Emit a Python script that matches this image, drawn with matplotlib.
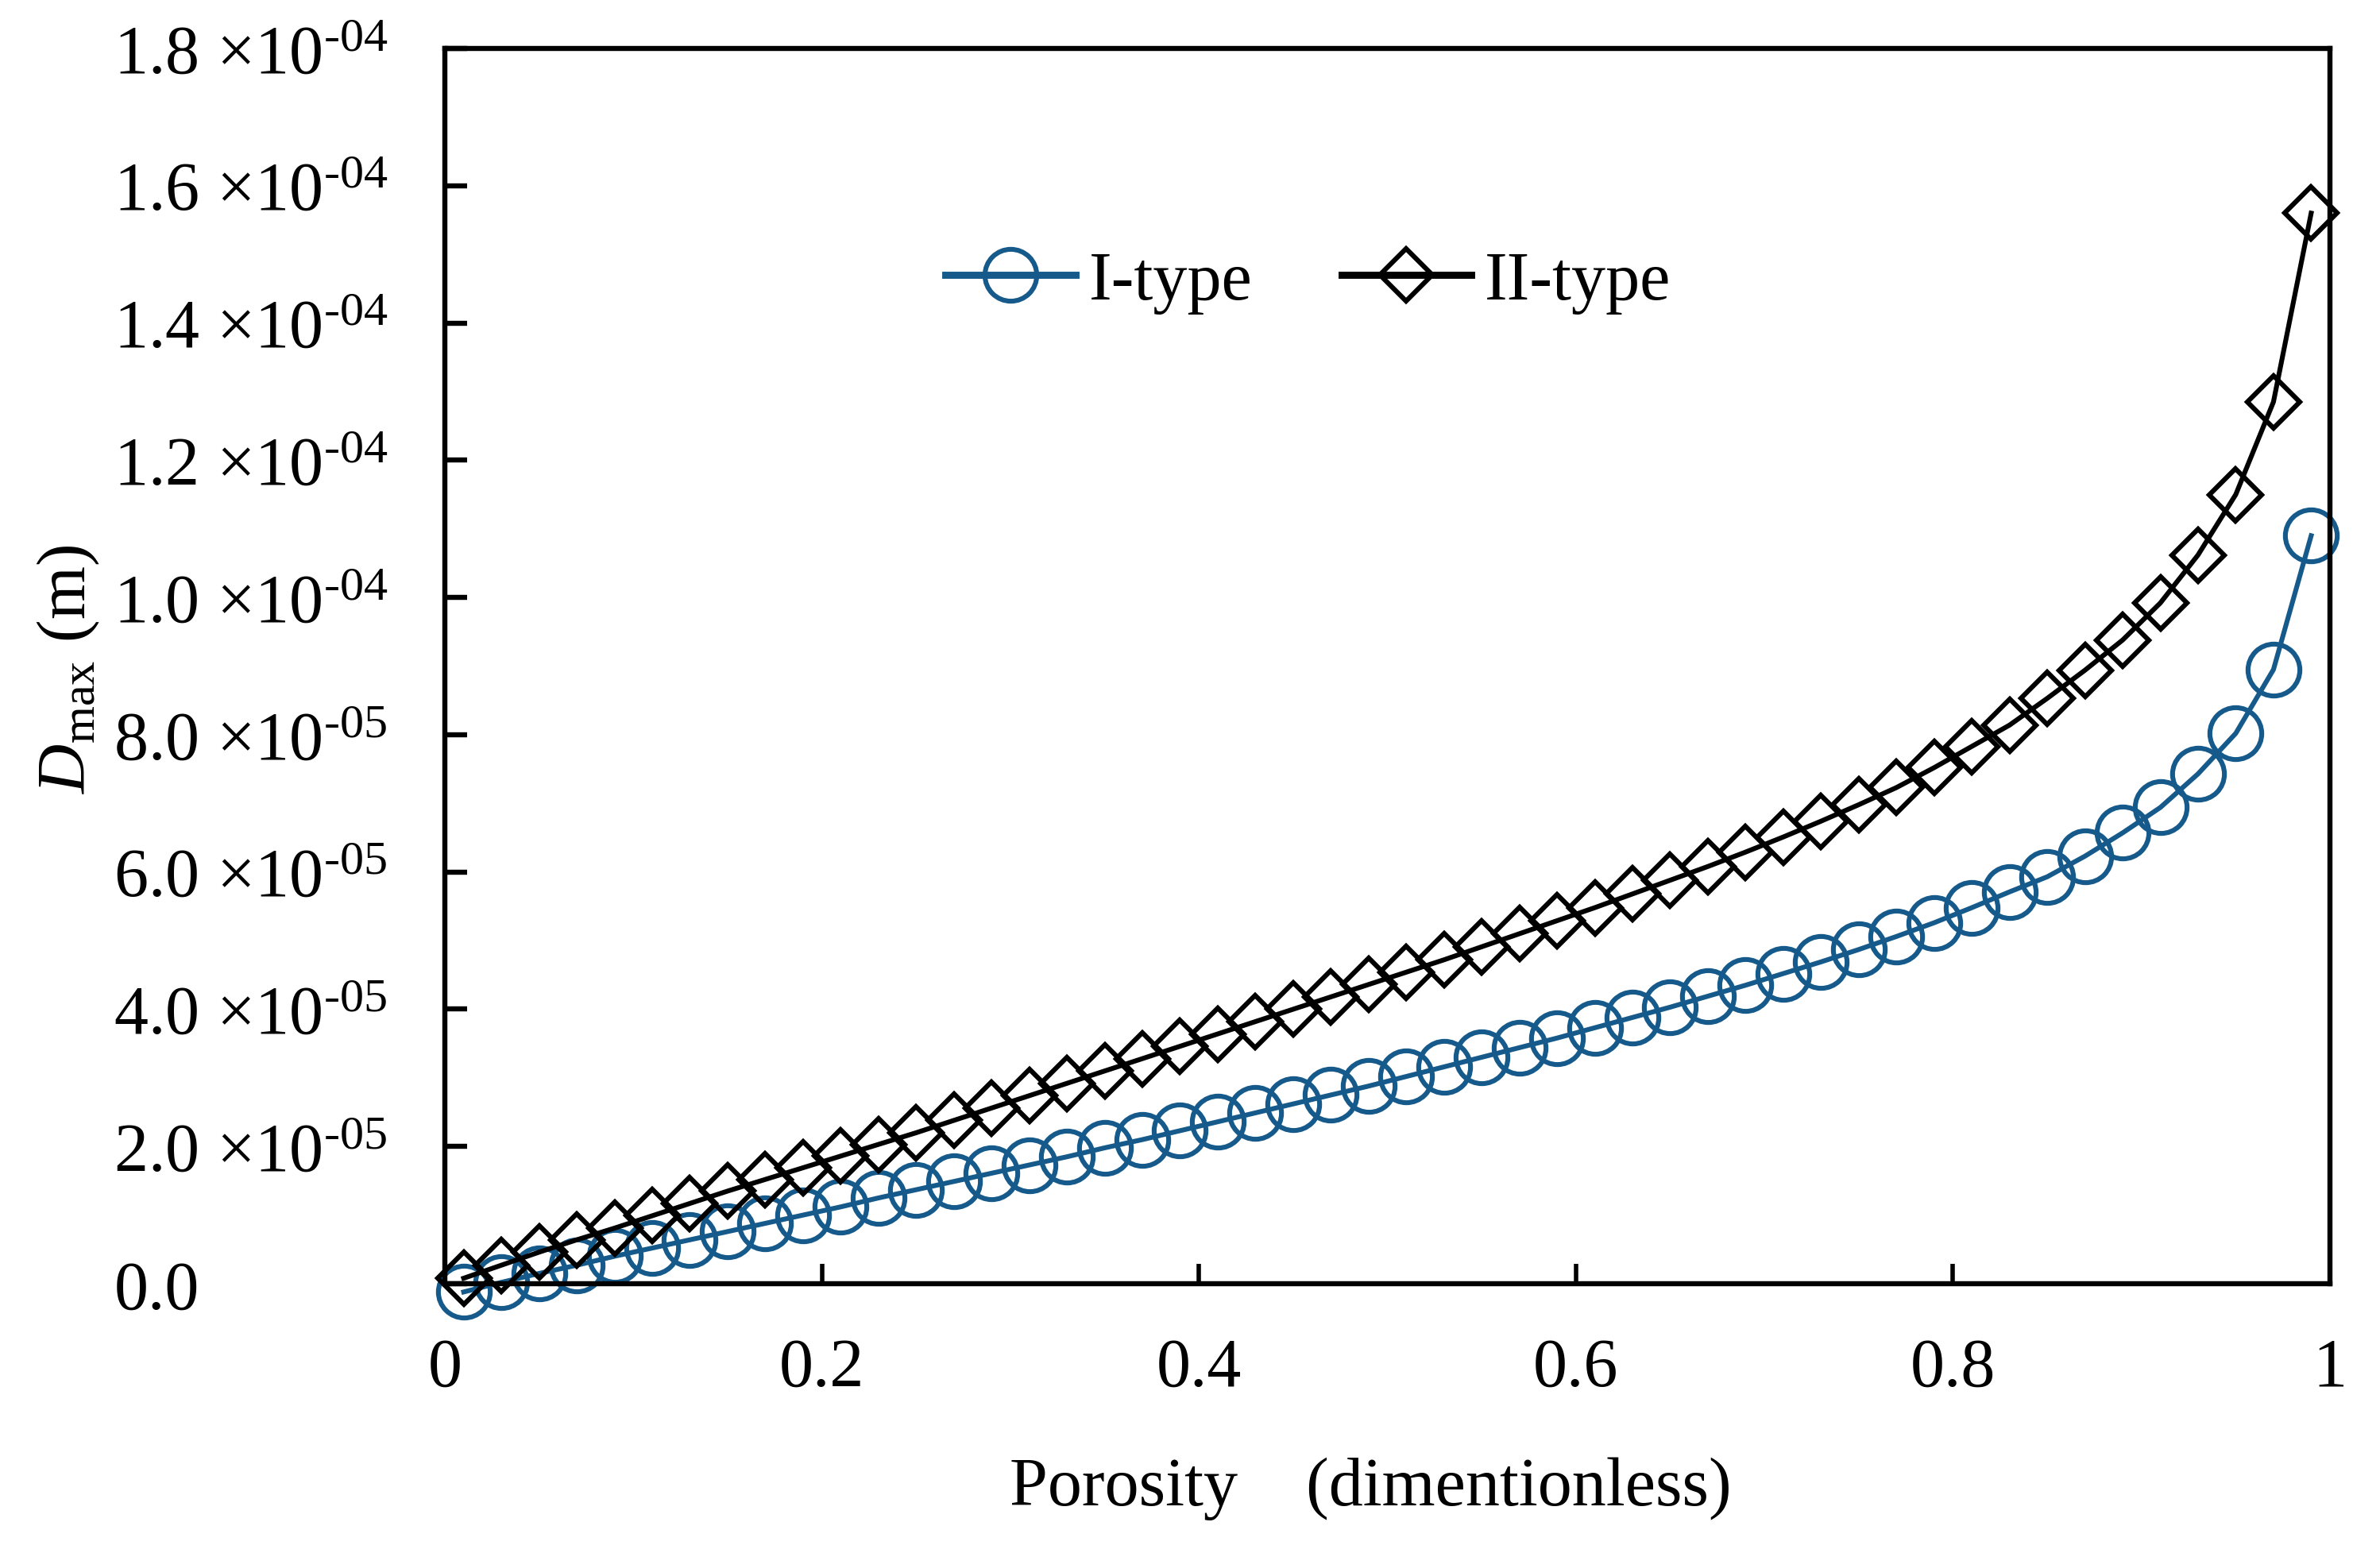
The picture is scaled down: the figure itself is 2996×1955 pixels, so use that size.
import matplotlib
matplotlib.use("Agg")
import matplotlib.pyplot as plt

# porosity, 0.01 .. 0.99 step 0.02
porosity = [0.01, 0.03, 0.05, 0.07, 0.09, 0.11, 0.13, 0.15, 0.17, 0.19,
            0.21, 0.23, 0.25, 0.27, 0.29, 0.31, 0.33, 0.35, 0.37, 0.39,
            0.41, 0.43, 0.45, 0.47, 0.49, 0.51, 0.53, 0.55, 0.57, 0.59,
            0.61, 0.63, 0.65, 0.67, 0.69, 0.71, 0.73, 0.75, 0.77, 0.79,
            0.81, 0.83, 0.85, 0.87, 0.89, 0.91, 0.93, 0.95, 0.97, 0.99]

# D_max in units of 1e-5 m
type1 = [-0.12, 0.02, 0.15, 0.27, 0.40, 0.52, 0.64, 0.76, 0.88, 1.00,
         1.12, 1.25, 1.37, 1.49, 1.61, 1.73, 1.85, 1.98, 2.10, 2.23,
         2.36, 2.49, 2.62, 2.75, 2.88, 3.02, 3.16, 3.30, 3.44, 3.58,
         3.73, 3.88, 4.03, 4.19, 4.35, 4.52, 4.69, 4.87, 5.06, 5.26,
         5.48, 5.71, 5.93, 6.23, 6.57, 6.94, 7.43, 8.02, 8.95, 10.90]

type2 = [0.08, 0.27, 0.46, 0.64, 0.81, 0.99, 1.17, 1.35, 1.52, 1.69,
         1.86, 2.03, 2.20, 2.38, 2.56, 2.74, 2.92, 3.10, 3.28, 3.46,
         3.64, 3.82, 4.00, 4.18, 4.36, 4.54, 4.72, 4.91, 5.10, 5.29,
         5.48, 5.68, 5.88, 6.08, 6.29, 6.51, 6.74, 6.98, 7.23, 7.52,
         7.83, 8.14, 8.53, 8.94, 9.38, 9.92, 10.62, 11.50, 12.85, 15.60]

series_names = ["I-type", "II-type"]

xticks = [0, 0.2, 0.4, 0.6, 0.8, 1.0]
xtick_labels = ["0", "0.2", "0.4", "0.6", "0.8", "1"]

yticks = [0, 2e-5, 4e-5, 6e-5, 8e-5, 1.0e-4, 1.2e-4, 1.4e-4, 1.6e-4, 1.8e-4]
ytick_labels = ["0.0",
                r"2.0 $\times$10$^{\text{-05}}$",
                r"4.0 $\times$10$^{\text{-05}}$",
                r"6.0 $\times$10$^{\text{-05}}$",
                r"8.0 $\times$10$^{\text{-05}}$",
                r"1.0 $\times$10$^{\text{-04}}$",
                r"1.2 $\times$10$^{\text{-04}}$",
                r"1.4 $\times$10$^{\text{-04}}$",
                r"1.6 $\times$10$^{\text{-04}}$",
                r"1.8 $\times$10$^{\text{-04}}$"]

plt.rcParams['font.family'] = ['Liberation Serif', 'DejaVu Serif']
plt.rcParams['mathtext.fontset'] = 'custom'
plt.rcParams['mathtext.rm'] = 'Liberation Serif'
plt.rcParams['mathtext.it'] = 'Liberation Serif:italic'
plt.rcParams['mathtext.bf'] = 'Liberation Serif:bold'

blue = '#155a8a'

fig = plt.figure(figsize=(14.98, 9.78), dpi=200)
ax = fig.add_axes([0.1869, 0.1733, 0.7921, 0.7950])

y1 = [v * 1e-5 for v in type1]
y2 = [v * 1e-5 for v in type2]

ax.plot(porosity, y1, '-o', color=blue, lw=2.2, ms=23.5, mew=2.2,
        mfc='none', mec=blue, clip_on=False, label=series_names[0])
ax.plot(porosity, y2, '-D', color='black', lw=2.2, ms=17, mew=2.2,
        mfc='none', mec='black', clip_on=False, label=series_names[1])

ax.set_xlim(0, 1)
ax.set_ylim(0, 1.8e-4)

ax.set_xticks(xticks)
ax.set_xticklabels(xtick_labels)
ax.set_yticks(yticks)
ax.set_yticklabels(ytick_labels)

for s in ax.spines.values():
    s.set_linewidth(2.3)

ax.tick_params(axis='x', direction='in', length=9, width=2, labelsize=31, pad=24)
ax.tick_params(axis='y', direction='in', length=10, width=2.3, labelsize=31, pad=150)
for lab in ax.get_yticklabels():
    lab.set_horizontalalignment('left')

ax.set_xlabel("Porosity    (dimentionless)", fontsize=31)
ax.xaxis.set_label_coords(0.491, -0.14)
ax.set_ylabel(r"$D_{\mathrm{max}}$ (m)", fontsize=31)
ax.yaxis.set_label_coords(-0.182, 0.498)

leg = ax.legend(loc='center', bbox_to_anchor=(0.458, 0.811), ncol=2, frameon=False,
                fontsize=31, handlelength=1.9, handletextpad=0.2, columnspacing=1.3)
for h in leg.get_lines():
    h.set_linewidth(3.2)

fig.savefig("out.png", dpi=200)
